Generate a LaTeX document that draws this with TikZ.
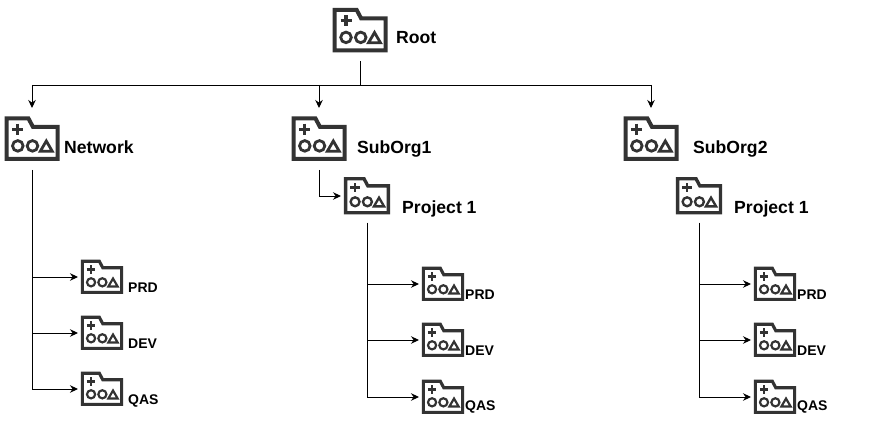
\documentclass[tikz,border=0pt]{standalone}
\usepackage{fontspec}
\setmainfont{Liberation Sans}
\usetikzlibrary{arrows.meta}
\definecolor{ico}{HTML}{333333}
\tikzset{
  folder/.pic={
    \begin{scope}[scale=#1,shift={(-27.5,-22.5)},draw=ico,line width=#1*4pt,line join=miter]
      \draw (2,2) -- (24,2) -- (28.5,10.5) -- (53,10.5) -- (53,42.5) -- (2,42.5) -- cycle;
      \draw[line width=#1*3.3pt] (7.8,12.7) -- (18.8,12.7) (13.3,7.2) -- (13.3,18.2);
      \draw[line width=#1*2.8pt] (13.3,29.4) circle [radius=5.3];
      \draw[line width=#1*2.8pt] (28,29.4) circle [radius=5.3];
      \draw[line width=#1*2.8pt] (35.8,34.8) -- (47.8,34.8) -- (41.8,24.5) -- cycle;
    \end{scope}
  },
  iconbig/.style={minimum width=55pt,minimum height=44pt,inner sep=0pt,outer xsep=3pt,outer ysep=9pt},
  iconmid/.style={minimum width=46pt,minimum height=37pt,inner sep=0pt,outer xsep=3pt,outer ysep=8pt},
  iconsmall/.style={minimum width=42pt,minimum height=35pt,inner sep=0pt,outer xsep=3pt,outer ysep=8pt},
  lab/.style={anchor=base west,inner sep=0pt,font=\fontsize{17.6}{20}\selectfont\bfseries},
  labmid/.style={anchor=base west,inner sep=0pt,font=\fontsize{17.6}{20}\selectfont\bfseries},
  labsmall/.style={anchor=base west,inner sep=0pt,font=\fontsize{14}{16}\selectfont\bfseries},
  conn/.style={draw=black,line width=0.95pt},
  arr/.style={conn,-{Stealth[length=8pt,width=7.5pt]}},
}
\newcommand{\foldernode}[5]{%
  \pic at (#2,#3) {folder=#4};
  \node[#5] (#1) at (#2,#3) {};
}
\begin{document}
\begin{tikzpicture}[x=1pt,y=-1pt]
\useasboundingbox (0,0) rectangle (896,422);
\fill[white] (0,0) rectangle (896,422);
% big icons
\foldernode{root}{360.2}{30.5}{1}{iconbig}
\foldernode{net}{32}{139}{1}{iconbig}
\foldernode{suba}{319}{139}{1}{iconbig}
\foldernode{subb}{651}{139}{1}{iconbig}
% project icons
\foldernode{proja}{367}{196}{0.84}{iconmid}
\foldernode{projb}{699}{196}{0.84}{iconmid}
% small icons
\foldernode{nprd}{102}{277}{0.77}{iconsmall}
\foldernode{ndev}{102}{333}{0.77}{iconsmall}
\foldernode{nqas}{102}{389}{0.77}{iconsmall}
\foldernode{aprd}{443}{284}{0.77}{iconsmall}
\foldernode{adev}{443}{340}{0.77}{iconsmall}
\foldernode{aqas}{443}{397}{0.77}{iconsmall}
\foldernode{bprd}{775}{284}{0.77}{iconsmall}
\foldernode{bdev}{775}{340}{0.77}{iconsmall}
\foldernode{bqas}{775}{397}{0.77}{iconsmall}
% labels
\node[lab] (lroot) at (396,44) {Root};
\node[lab] (lnet) at (64,154) {Network};
\node[lab] (lsuba) at (357,154) {SubOrg1};
\node[lab] (lsubb) at (693,154) {SubOrg2};
\node[labmid] (lproja) at (402,213) {Project 1};
\node[labmid] (lprojb) at (734,213) {Project 1};
\node[labsmall] (l1) at (128,292) {PRD};
\node[labsmall] (l2) at (128,348) {DEV};
\node[labsmall] (l3) at (128,404) {QAS};
\node[labsmall] (l4) at (465,299) {PRD};
\node[labsmall] (l5) at (465,355) {DEV};
\node[labsmall] (l6) at (465,410) {QAS};
\node[labsmall] (l7) at (797,299) {PRD};
\node[labsmall] (l8) at (797,355) {DEV};
\node[labsmall] (l9) at (797,410) {QAS};
% connectors
\coordinate (bus) at (360.2,85);
\draw[conn] (root.south) -- (bus);
\draw[conn] (bus -| net.north) -- (bus -| subb.north);
\draw[arr] (bus -| net.north) -- (net.north);
\draw[arr] (bus -| suba.north) -- (suba.north);
\draw[arr] (bus -| subb.north) -- (subb.north);
\draw[arr] (suba.south) |- (proja.west);
\foreach \s/\a/\b/\c in {net/nprd/ndev/nqas,proja/aprd/adev/aqas,projb/bprd/bdev/bqas}{
  \draw[conn] (\s.south) -- (\s.south |- \c.west);
  \draw[arr] (\s.south |- \a.west) -- (\a.west);
  \draw[arr] (\s.south |- \b.west) -- (\b.west);
  \draw[arr] (\s.south |- \c.west) -- (\c.west);
}
\end{tikzpicture}
\end{document}
